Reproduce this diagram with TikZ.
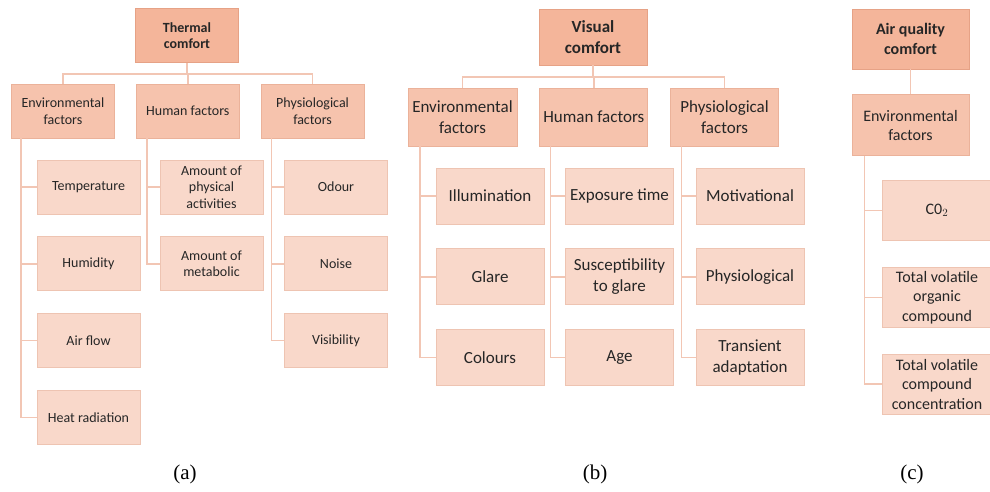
\documentclass[tikz,border=0pt]{standalone}
\usepackage{fontspec}
\setmainfont{Carlito}
\newfontfamily\capfont{Liberation Serif}
\usetikzlibrary{positioning}
\definecolor{rootfill}{HTML}{F4B59A}
\definecolor{rootline}{HTML}{E6A286}
\definecolor{midfill}{HTML}{F6C3AD}
\definecolor{midline}{HTML}{EBB29A}
\definecolor{leaffill}{HTML}{F9D8CA}
\definecolor{leafline}{HTML}{EEC4B2}
\definecolor{linkcol}{HTML}{F2C6B4}
\definecolor{txtcol}{HTML}{262626}

\begin{document}
\begin{tikzpicture}[x=1pt,y=-1pt,text=txtcol,
		box/.style={align=center,inner sep=1pt,line width=0.8pt},
		root node/.style={box,fill=rootfill,draw=rootline,font=\bfseries\panelfont},
		factor node/.style={box,fill=midfill,draw=midline,font=\panelfont},
		item node/.style={box,fill=leaffill,draw=leafline,font=\panelfont},
		link/.style={draw=linkcol,line width=1.4pt},
		caption/.style={font=\capfont\fontsize{21}{24}\selectfont,text=black}]
		\useasboundingbox (0,0) rectangle (990,492);
		
		% (a) thermal comfort
		\def\panelfont{\fontsize{14}{16.5}\selectfont}
		\begin{scope}[every node/.append style={minimum width=103pt,minimum height=54pt},node distance=22pt]
		\node[root node] (tc) at (187,35.5) {Thermal\\comfort};
		\node[factor node] (ta) at (63,111) {Environmental\\factors};
		\node[factor node] (th) [right=21pt of ta] {Human factors};
		\node[factor node] (tp) [right=21pt of th] {Physiological\\factors};
		\node[item node] (ta1) at (88.5,187) {Temperature};
		\node[item node] (ta2) [below=of ta1] {Humidity};
		\node[item node] (ta3) [below=of ta2] {Air flow};
		\node[item node] (ta4) [below=of ta3] {Heat radiation};
		\node[item node] (th1) at (211.5,187) {Amount of\\physical\\activities};
		\node[item node] (th2) [below=of th1] {Amount of\\metabolic};
		\node[item node] (tp1) at (336,187) {Odour};
		\node[item node] (tp2) [below=of tp1] {Noise};
		\node[item node] (tp3) [below=of tp2] {Visibility};
		\end{scope}
		\coordinate (tbus) at (tc.south |- 0,74);
		\draw[link] (tc.south) -- (tbus);
		\draw[link] (tbus) -| (ta.north);
		\draw[link] (tbus) -| (th.north);
		\draw[link] (tbus) -| (tp.north);
		\foreach \k in {1,...,4}
		\draw[link] ([xshift=10pt]ta.south west) |- (ta\k.west);
		\foreach \k in {1,2}
		\draw[link] ([xshift=11pt]th.south west) |- (th\k.west);
		\foreach \k in {1,...,3}
		\draw[link] ([xshift=11pt]tp.south west) |- (tp\k.west);
		
		% (b) visual comfort
		\def\panelfont{\fontsize{17}{21.5}\selectfont}
		\begin{scope}[every node/.append style={minimum width=108pt,minimum height=56pt},node distance=24pt]
		\node[root node] (vc) at (593,37) {Visual\\comfort};
		\node[factor node,minimum height=58pt,minimum width=109pt] (va) at (462.5,117) {Environmental\\factors};
		\node[factor node,minimum height=58pt] (vh) [right=22pt of va] {Human factors};
		\node[factor node,minimum height=58pt] (vp) [right=22pt of vh] {Physiological\\factors};
		\node[item node] (va1) at (490,196) {Illumination};
		\node[item node] (va2) [below=of va1] {Glare};
		\node[item node] (va3) [below=of va2] {Colours};
		\node[item node] (vh1) at (619.5,196) {Exposure time};
		\node[item node] (vh2) [below=of vh1] {Susceptibility\\to glare};
		\node[item node] (vh3) [below=of vh2] {Age};
		\node[item node] (vp1) at (750,196) {Motivational};
		\node[item node] (vp2) [below=of vp1] {Physiological};
		\node[item node] (vp3) [below=of vp2] {Transient\\adaptation};
		\end{scope}
		\coordinate (vbus) at (vc.south |- 0,77);
		\draw[link] (vc.south) -- (vbus);
		\draw[link] (vbus) -| (va.north);
		\draw[link] (vbus) -| (vh.north);
		\draw[link] (vbus) -| (vp.north);
		\foreach \k in {1,...,3}{
			\draw[link] ([xshift=12.5pt]va.south west) |- (va\k.west);
			\draw[link] ([xshift=11pt]vh.south west) |- (vh\k.west);
			\draw[link] ([xshift=11pt]vp.south west) |- (vp\k.west);
		}
		
		% (c) air quality comfort
		\def\panelfont{\fontsize{16}{19.5}\selectfont}
		\begin{scope}[every node/.append style={minimum width=117pt,minimum height=60pt},node distance=25pt]
		\node[root node] (ac) at (910.5,39) {Air quality\\comfort};
		\node[factor node,minimum height=61pt] (ae) [below=of ac] {Environmental\\factors};
		\node[item node,minimum width=110pt] (ae1) at (937,210.5) {C0$_2$};
		\node[item node,minimum width=110pt] (ae2) [below=26pt of ae1] {Total volatile\\organic\\compound};
		\node[item node,minimum width=110pt] (ae3) [below=26pt of ae2] {Total volatile\\compound\\concentration};
		\end{scope}
		\draw[link] (ac.south) -- (ae.north);
		\foreach \k in {1,...,3}
		\draw[link] ([xshift=13pt]ae.south west) |- (ae\k.west);
		
		\node[caption] (capa) at (185,474) {(a)};
		\node[caption] (capb) at (595,474) {(b)};
		\node[caption] (capc) at (912,474) {(c)};
\end{tikzpicture}
\end{document}
